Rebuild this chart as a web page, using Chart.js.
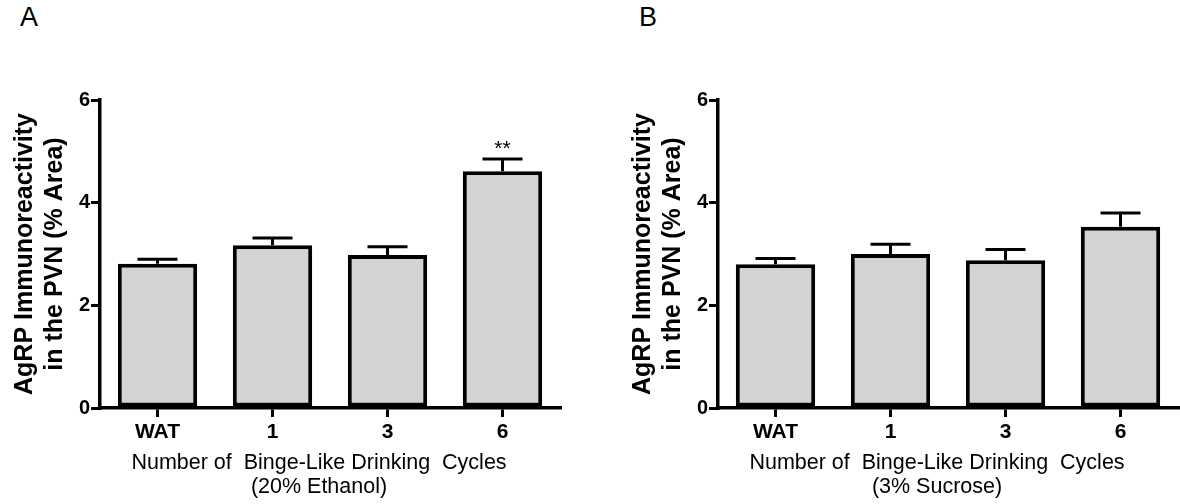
<!DOCTYPE html>
<html>
<head>
<meta charset="utf-8">
<script src="https://cdn.jsdelivr.net/npm/chart.js@4"></script>
<style>
	body { margin: 0; background: #fff; font-family: "Liberation Sans", Arial, sans-serif; }
	#wrap { position: relative; width: 1180px; height: 504px; }
	canvas { position: absolute; top: 0; }
	.panel { position: absolute; top: 2px; font-size: 27px; color: #000; }
</style>
</head>
<body>
<div id="wrap">
	<div class="panel" style="left: 20px;">A</div>
	<div class="panel" style="left: 639px;">B</div>
	<canvas id="chartA" style="left: 0;"></canvas>
	<canvas id="chartB" style="left: 618px;"></canvas>
</div>
<script>
const categories = ["WAT", "1", "3", "6"];
const yTicks = [0, 2, 4, 6];

const ethanolMeans = [2.81, 3.17, 2.98, 4.61];
const ethanolErrors = [0.09, 0.14, 0.16, 0.24];
const ethanolMarks = ["", "", "", "**"];

const sucroseMeans = [2.80, 3.00, 2.88, 3.53];
const sucroseErrors = [0.11, 0.19, 0.21, 0.27];
const sucroseMarks = ["", "", "", ""];

const FONT = "'Liberation Sans', Arial, sans-serif";

// upper error bars, significance stars and the x axis caption
const extras = {
	id: "extras",
	afterDatasetsDraw(chart, args, opts) {
		const { ctx, chartArea } = chart;
		const meta = chart.getDatasetMeta(0);
		const y = chart.scales.y;
		ctx.save();
		ctx.strokeStyle = "#000";
		ctx.fillStyle = "#000";
		ctx.lineWidth = 3;
		meta.data.forEach((bar, i) => {
			const top = y.getPixelForValue(opts.means[i] + opts.errors[i]);
			ctx.beginPath();
			ctx.moveTo(bar.x, bar.y);
			ctx.lineTo(bar.x, top);
			ctx.moveTo(bar.x - 20, top);
			ctx.lineTo(bar.x + 20, top);
			ctx.stroke();
			if (opts.marks[i]) {
				ctx.font = "21px " + FONT;
				ctx.textAlign = "center";
				ctx.textBaseline = "alphabetic";
				ctx.fillText(opts.marks[i], bar.x, top - 4);
			}
		});
		const cx = (chartArea.left + chartArea.right) / 2 - 11;
		ctx.font = "21.5px " + FONT;
		ctx.textAlign = "center";
		ctx.textBaseline = "middle";
		opts.caption.forEach((line, k) => {
			ctx.fillText(line, cx, 463 + k * 24);
		});
		ctx.restore();
	},
};

function makeChart(id, means, errors, marks, subtitle) {
	const canvas = document.getElementById(id);
	canvas.width = 562;
	canvas.height = 504;
	canvas.style.width = "562px";
	canvas.style.height = "504px";

	const data = {
		labels: categories,
		datasets: [
			{
				data: means,
				backgroundColor: "#d3d3d3",
				borderColor: "#000",
				borderWidth: 4,
				borderSkipped: false,
				barPercentage: 0.69,
				categoryPercentage: 1,
			},
		],
	};

	const options = {
		responsive: false,
		animation: false,
		layout: { padding: { top: 100, right: 2, bottom: 0, left: 0 } },
		plugins: {
			legend: { display: false },
			tooltip: { enabled: false },
			extras: { means, errors, marks, caption: ["Number of  Binge-Like Drinking  Cycles", subtitle] },
		},
		scales: {
			x: {
				offset: true,
				afterFit: (s) => { s.height = 96; },
				border: { color: "#000", width: 3.5 },
				grid: { display: true, offset: false, drawOnChartArea: false, color: "#000", lineWidth: 3, tickLength: 9 },
				ticks: { color: "#000", font: { family: FONT, size: 21, weight: "bold" }, padding: 3 },
			},
			y: {
				min: 0,
				max: 6,
				afterFit: (s) => { s.width = 100; },
				afterBuildTicks: (s) => { s.ticks = yTicks.map((v) => ({ value: v })); },
				border: { color: "#000", width: 3.5 },
				grid: { display: true, drawOnChartArea: false, color: "#000", lineWidth: 3, tickLength: 9 },
				ticks: { color: "#000", font: { family: FONT, size: 20, weight: "bold" }, padding: 1 },
				title: {
					display: true,
					text: ["AgRP Immunoreactivity", "in the PVN (% Area)"],
					color: "#000",
					font: { family: FONT, size: 25, weight: "bold", lineHeight: 1.2 },
					padding: { top: 10, bottom: 0 },
				},
			},
		},
	};

	return new Chart(canvas, { type: "bar", data, options, plugins: [extras] });
}

makeChart("chartA", ethanolMeans, ethanolErrors, ethanolMarks, "(20% Ethanol)");
makeChart("chartB", sucroseMeans, sucroseErrors, sucroseMarks, "(3% Sucrose)");
</script>
</body>
</html>
